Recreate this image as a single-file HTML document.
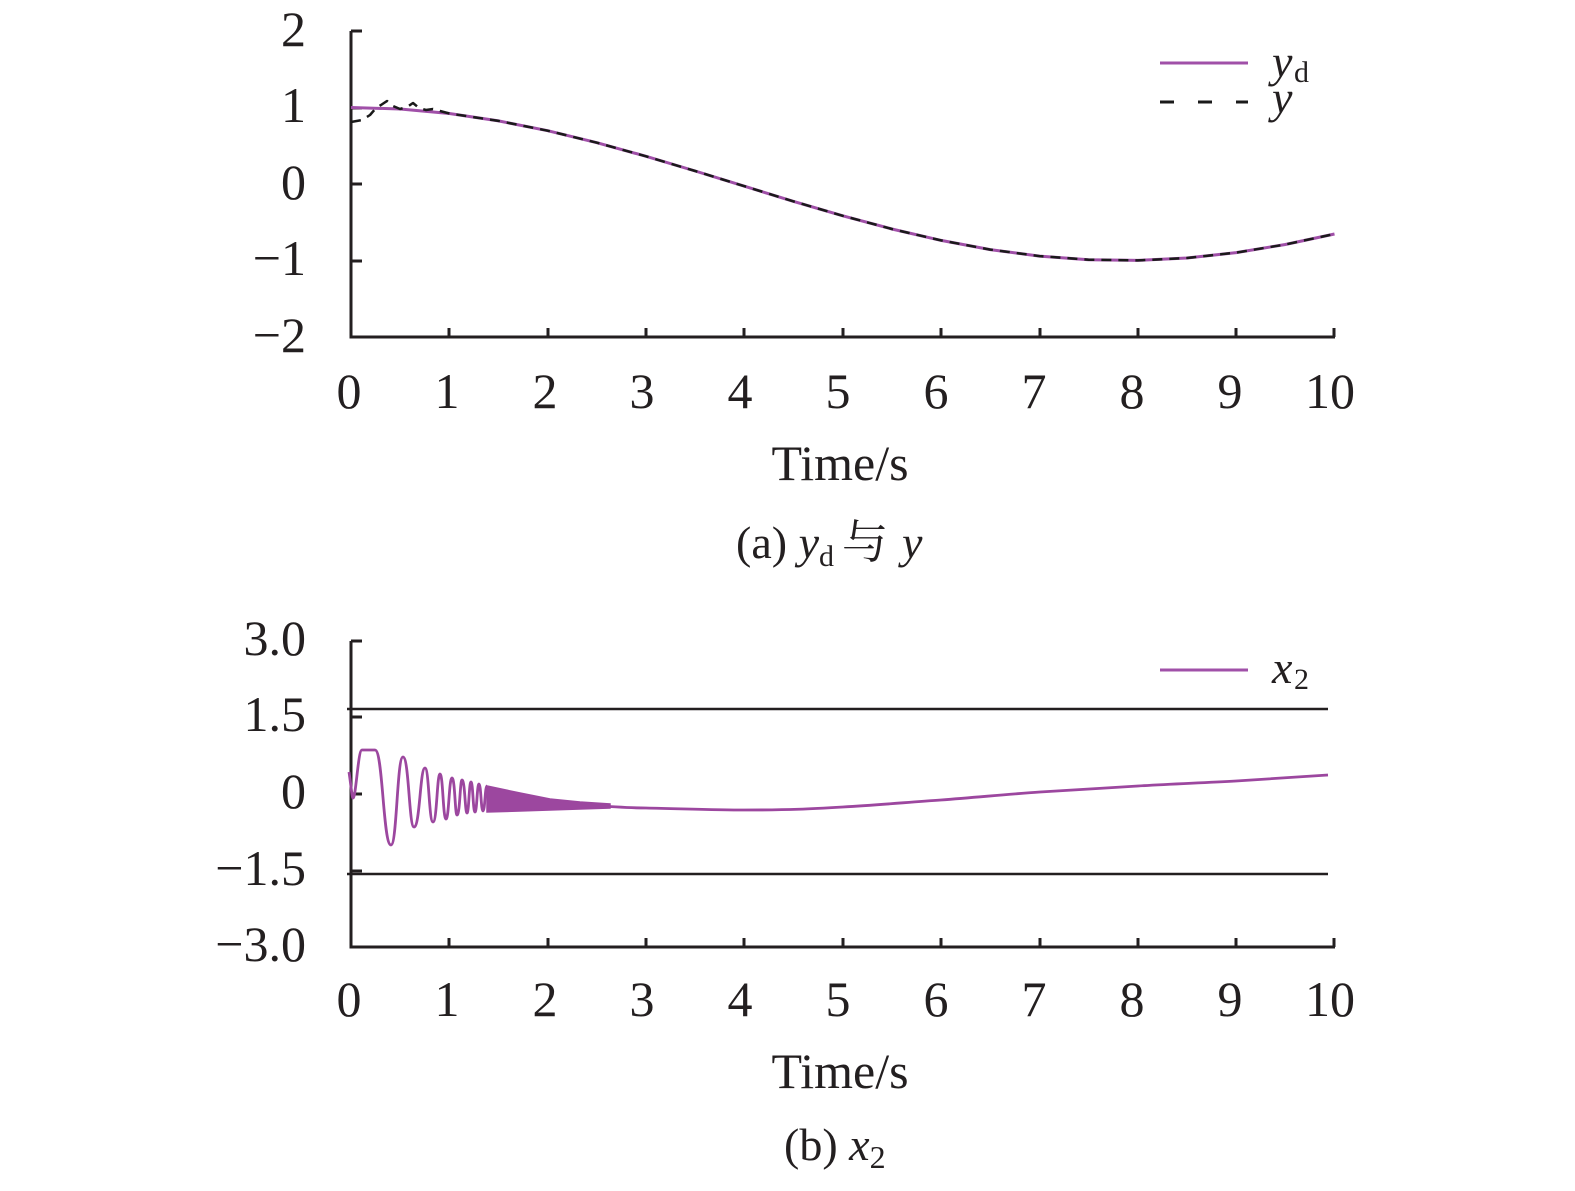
<!DOCTYPE html>
<html><head><meta charset="utf-8"><style>
body{margin:0;background:#fff;}
svg{display:block;font-family:"Liberation Serif","Noto Serif CJK SC","Noto Sans CJK SC",serif;}
</style></head><body>
<svg width="1575" height="1191" viewBox="0 0 1575 1191" xmlns="http://www.w3.org/2000/svg">
<g fill="#231f20" font-size="50" text-anchor="end">
<text x="306" y="46">2</text><text x="306" y="122">1</text><text x="306" y="199">0</text><text x="306" y="275">−1</text><text x="306" y="352">−2</text>
<text x="306" y="655">3.0</text><text x="306" y="731">1.5</text><text x="306" y="808">0</text><text x="306" y="885">−1.5</text><text x="306" y="961">−3.0</text>
</g>
<g fill="#231f20" font-size="50" text-anchor="middle">
<text x="349" y="408">0</text><text x="447" y="408">1</text><text x="545" y="408">2</text><text x="642" y="408">3</text><text x="740" y="408">4</text><text x="838" y="408">5</text><text x="936" y="408">6</text><text x="1034" y="408">7</text><text x="1132" y="408">8</text><text x="1230" y="408">9</text><text x="1330" y="408">10</text>
<text x="349" y="1016">0</text><text x="447" y="1016">1</text><text x="545" y="1016">2</text><text x="642" y="1016">3</text><text x="740" y="1016">4</text><text x="838" y="1016">5</text><text x="936" y="1016">6</text><text x="1034" y="1016">7</text><text x="1132" y="1016">8</text><text x="1230" y="1016">9</text><text x="1330" y="1016">10</text>
</g>
<g stroke="#231f20" stroke-width="3" fill="none">
<path d="M351 31V337H1335M351 31h11M351 108h11M351 184h11M351 261h11M351 337h11"/>
<path d="M351 641V947H1335M351 641h11M351 717h11M351 794h11M351 871h11M351 947h11"/>
<path d="M449 337v-9M548 337v-9M646 337v-9M744 337v-9M843 337v-9M941 337v-9M1040 337v-9M1138 337v-9M1236 337v-9M1334 337v-9"/>
<path d="M449 947v-9M548 947v-9M646 947v-9M744 947v-9M843 947v-9M941 947v-9M1040 947v-9M1138 947v-9M1236 947v-9M1334 947v-9"/>
<path d="M347 709H1328M347 874H1328" stroke-width="2.5"/>
</g>
<polyline fill="none" stroke="#a050a8" stroke-width="3" points="351,107.5 400.2,109 449.4,113.5 498.5,120.9 547.7,130.7 596.9,142.7 646.1,156.3 695.2,171 744.4,186.2 793.6,201.4 842.8,215.8 891.9,229 941.1,240.4 990.3,249.6 1039.5,256.1 1088.6,259.7 1137.8,260.4 1187,258 1236.2,252.6 1285.3,244.5 1334.5,234"/>
<path fill="none" stroke="#1a1a1a" stroke-width="2.5" stroke-dasharray="10 7" stroke-linejoin="round" d="M351 122L362 120L370 115L376 108L381 105L387 101L393 106L400 109L407 107L413 103L419 108L426 110L433 109L440 111L449.4 113.5L498.5 120.9L547.7 130.7L596.9 142.7L646.1 156.3L695.2 171L744.4 186.2L793.6 201.4L842.8 215.8L891.9 229L941.1 240.4L990.3 249.6L1039.5 256.1L1088.6 259.7L1137.8 260.4L1187 258L1236.2 252.6L1285.3 244.5L1334.5 234"/>
<path fill="none" stroke="#9c479f" stroke-width="2.8" d="M349 772C351 785 352 798 353 798C356 798 358 750 362 750L375 750C383 750 383 845 391 845C397 845 397 757 403 757C409 757 409 827 414 827C420 827 420 768 425 768C429 768 429 822 433 822C437 822 437 774 440 774C443 774 443 819 446 819C449 819 449 778 452 778C455 778 455 815 457 815C460 815 460 780 462 780C465 780 465 813 467 813C469 813 469 782 471 782C473 782 473 812 475 812C477 812 477 784 479 784C481 784 481 811 483 811C485 811 485 786 487 786"/>
<path fill="#9c479f" stroke="#9c479f" stroke-width="1.5" d="M487 786L520 793L550 799L580 802L610 804L610 808L580 809L550 810L520 811L487 812Z"/>
<path fill="none" stroke="#9c479f" stroke-width="2.8" d="M600 806C620 807 630 808 646 808C690 809 720 810 744 810C790 810 810 809 843 807C880 805 910 802 941 800C980 797 1010 794 1040 792C1075 790 1105 788 1138 786C1170 784 1200 783 1236 781C1270 779 1300 777 1328 775"/>
<line x1="1160" y1="63" x2="1248" y2="63" stroke="#a050a8" stroke-width="3"/>
<line x1="1160" y1="102" x2="1248" y2="102" stroke="#1a1a1a" stroke-width="3" stroke-dasharray="14 24"/>
<line x1="1160" y1="670" x2="1248" y2="670" stroke="#a050a8" stroke-width="3"/>
<g fill="#231f20" font-size="46">
<text x="1272" y="77" font-style="italic">y</text><text x="1294" y="82" font-size="30">d</text>
<text x="1272" y="113" font-style="italic">y</text>
<text x="1272" y="683" font-style="italic">x</text><text x="1294" y="689" font-size="30">2</text>
</g>
<g fill="#231f20" font-size="50" text-anchor="middle">
<text x="840" y="480">Time/s</text>
<text x="840" y="1088">Time/s</text>
</g>
<g fill="#231f20" font-size="46">
<text x="736" y="558">(a) <tspan font-style="italic">y</tspan><tspan font-size="30" dy="8">d</tspan><tspan dy="-8" dx="8">与</tspan><tspan dx="14" font-style="italic">y</tspan></text>
<text x="784" y="1160">(b) <tspan font-style="italic">x</tspan><tspan font-size="32" dy="8">2</tspan></text>
</g>
</svg>
</body></html>
